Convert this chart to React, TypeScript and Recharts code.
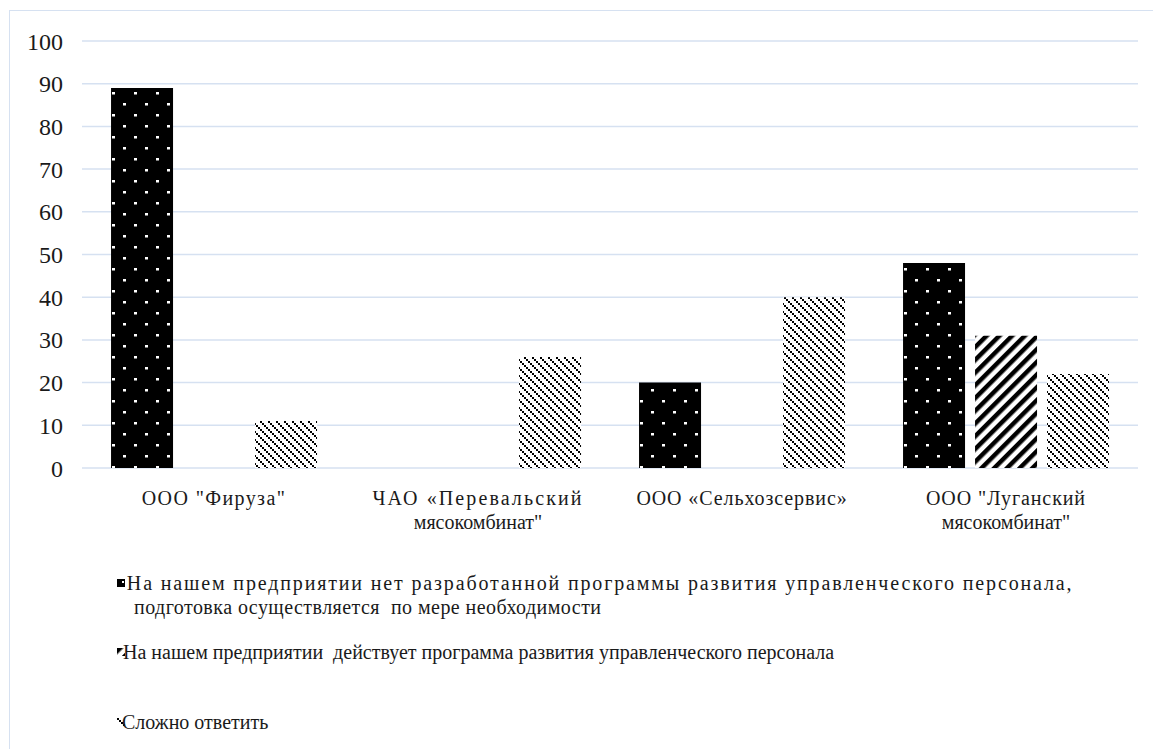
import React from 'react';
import { BarChart, Bar, XAxis, YAxis, CartesianGrid } from 'recharts';

const categories = ['ООО "Фируза"\n', 'ЧАО «Перевальский\nмясокомбинат"', 'ООО «Сельхозсервис»\n', 'ООО "Луганский\nмясокомбинат"'];
const noProgram = [89, null, 20, 48];
const hasProgram = [null, null, null, 31];
const hardToSay = [11, 26, 40, 22];
const yTicks = [0, 10, 20, 30, 40, 50, 60, 70, 80, 90, 100];
const legendLabels = [
  'На нашем предприятии нет разработанной программы развития управленческого персонала,\nподготовка осуществляется  по мере необходимости',
  'На нашем предприятии  действует программа развития управленческого персонала',
  'Сложно ответить',
];

// visual letter spacing of the first line of each category label (style only)
const labelSpacing = [1.4, 2.1, 0.9, 0.9];

const data = categories.map((c, i) => ({ name: c, a: noProgram[i], b: hasProgram[i], c: hardToSay[i] }));

const FONT = "'Liberation Serif', Tinos, 'Times New Roman', serif";

const XTick = (props: any) => {
  const { x, y, payload, index } = props;
  const lines = String(payload.value).split('\n').filter((l: string) => l.length);
  return (
    <g>
      {lines.map((l: string, i: number) => (
        <text key={i} x={x} y={y + 37 + i * 24} textAnchor="middle" style={{ fontFamily: FONT, fontSize: 20, letterSpacing: i === 0 ? labelSpacing[index] : 0 }} fill="#1a1a1a">{l}</text>
      ))}
    </g>
  );
};

export default function App() {
  const l1 = legendLabels[0].split('\n');
  return (
    <div style={{ position: 'absolute', left: 9, top: 10, width: 1150, height: 745, border: '1.5px solid #d6e1f1', borderRight: 'none', borderBottom: 'none', background: '#fff', boxSizing: 'border-box' }}>
      <BarChart width={1144} height={560} data={data} margin={{ top: 30, right: 16, bottom: 43, left: 0 }} barCategoryGap="11%" barGap={10}>
        <defs>
          <pattern id="patDots" width="22" height="22" patternUnits="userSpaceOnUse">
            <rect width="22" height="22" fill="#000" />
            <rect x="3" y="4" width="3" height="2.5" fill="#fff" />
            <rect x="14" y="15" width="3" height="2.5" fill="#fff" />
          </pattern>
          <pattern id="patWide" width="9" height="9" patternUnits="userSpaceOnUse" patternTransform="rotate(45)">
            <rect width="9" height="9" fill="#fff" />
            <rect width="4.5" height="9" fill="#000" />
          </pattern>
          <pattern id="patThin" width="8" height="8" patternUnits="userSpaceOnUse">
            <rect width="8" height="8" fill="#fff" />
            <rect x="0" y="0" width="2" height="2" fill="#000" />
            <rect x="2" y="2" width="2" height="2" fill="#000" />
            <rect x="4" y="4" width="2" height="2" fill="#000" />
            <rect x="6" y="6" width="2" height="2" fill="#000" />
          </pattern>
        </defs>
        <CartesianGrid vertical={false} stroke="#d6e1f1" strokeWidth={1.5} />
        <XAxis dataKey="name" axisLine={false} tickLine={false} tickSize={0} tickMargin={0} height={60} interval={0} tick={<XTick />} />
        <YAxis domain={[0, 100]} ticks={yTicks} axisLine={false} tickLine={false} tickSize={0} tickMargin={19} width={72} tick={{ style: { fontFamily: FONT, fontSize: 24 }, fill: '#1a1a1a' }} />
        <Bar dataKey="a" fill="url(#patDots)" isAnimationActive={false} />
        <Bar dataKey="b" fill="url(#patWide)" isAnimationActive={false} />
        <Bar dataKey="c" fill="url(#patThin)" isAnimationActive={false} />
      </BarChart>
      <div style={{ position: 'absolute', left: 0, top: 0, fontFamily: FONT, fontSize: 20, color: '#1a1a1a' }}>
        <svg style={{ position: 'absolute', left: 107, top: 568 }} width="8" height="8"><rect width="8" height="8" fill="#000" /><rect x="5" y="2" width="2" height="2" fill="#fff" /></svg>
        <div style={{ position: 'absolute', left: 110, top: 560, whiteSpace: 'pre', lineHeight: '24px', letterSpacing: 1.85 }}>{' ' + l1[0]}</div>
        <div style={{ position: 'absolute', left: 124, top: 584, whiteSpace: 'pre', lineHeight: '24px', letterSpacing: 0.45 }}>{l1[1]}</div>
        <svg style={{ position: 'absolute', left: 107, top: 637 }} width="8" height="8"><rect width="8" height="8" fill="url(#patWide)" /></svg>
        <div style={{ position: 'absolute', left: 113, top: 629, whiteSpace: 'pre', lineHeight: '24px' }}>{legendLabels[1]}</div>
        <svg style={{ position: 'absolute', left: 107, top: 707 }} width="8" height="8"><rect width="8" height="8" fill="url(#patThin)" /></svg>
        <div style={{ position: 'absolute', left: 112, top: 699, whiteSpace: 'pre', lineHeight: '24px' }}>{legendLabels[2]}</div>
      </div>
    </div>
  );
}
